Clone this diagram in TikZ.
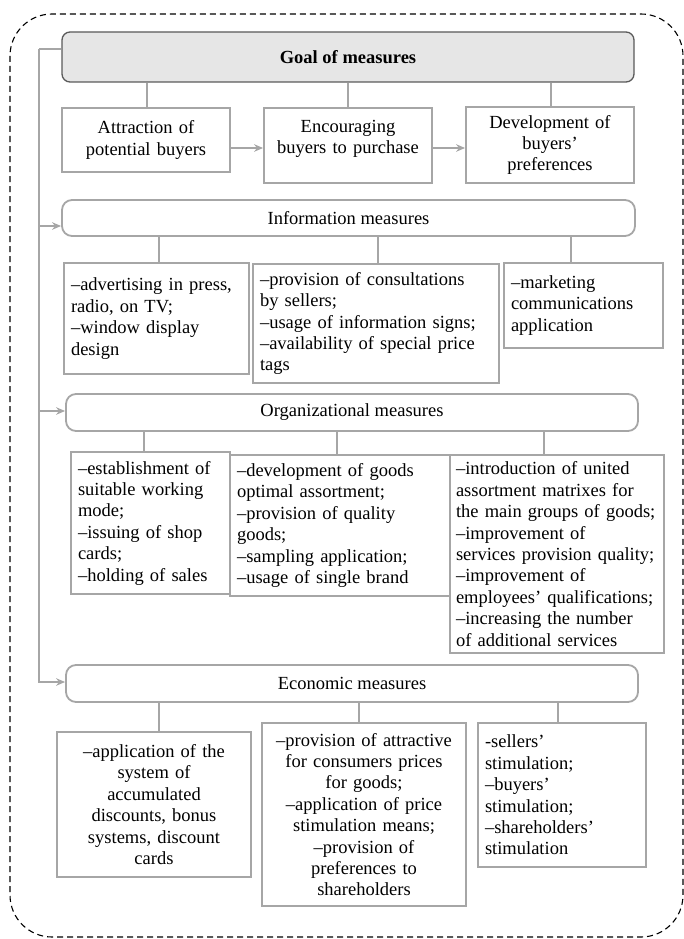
\documentclass[tikz,border=0pt]{standalone}
\usepackage{fontspec}
\setmainfont{Liberation Serif}
\usetikzlibrary{arrows.meta}
\definecolor{boxgray}{RGB}{166,166,166}
\definecolor{goalgray}{RGB}{90,90,90}
\definecolor{goalfill}{RGB}{230,230,230}
\begin{document}
\begin{tikzpicture}[x=1pt,y=-1pt,
  every node/.style={font=\fontsize{18.5}{21.4}\selectfont, inner xsep=7pt, inner ysep=0pt},
  box/.style={draw=boxgray, line width=1.8pt, rectangle},
  head/.style={draw=boxgray, line width=1.8pt, rounded corners=10pt, rectangle},
  link/.style={draw=boxgray, line width=1.8pt},
  arr/.style={link, -{Stealth[length=9pt,width=7.5pt]}},
  lt/.style={align=left},
  ct/.style={align=center}]
\useasboundingbox (0,0) rectangle (684,939);

% outer dashed frame
\draw[line width=1.1pt, dash pattern=on 6pt off 4pt, rounded corners=42pt]
  (10,14) rectangle (683,937);

% goal and its three sub-goals
\node[draw=goalgray, fill=goalfill, line width=1.3pt, rounded corners=8pt,
  minimum width=572, minimum height=50, font=\fontsize{18.5}{21.4}\selectfont\bfseries]
  (goal) at (348,57) {Goal of measures};
\node[box, ct, minimum width=168, minimum height=64, text width=154] (attr) at (146,140)
  {Attraction of\\potential buyers};
\node[box, ct, minimum width=168, minimum height=75, text width=154] (enc) at (348,145.5)
  {Encouraging\\buyers to purchase\\[-4pt]\mbox{}};
\node[box, ct, minimum width=168, minimum height=76, text width=154] (dev) at (550,145)
  {Development of\\buyers’\\preferences};

% measure groups
\node[head, minimum width=573, minimum height=36] (info) at (348.5,218) {Information measures};
\node[head, minimum width=572, minimum height=37] (org) at (352,412.5) {Organizational measures};
\node[head, minimum width=572, minimum height=37] (eco) at (352,683.5) {Economic measures};

% information measures
\node[box, lt, minimum width=185, minimum height=111, text width=171] (i1) at (156.5,318.5)
  {–advertising in press,\\radio, on TV;\\–window display\\design};
\node[box, lt, minimum width=246, minimum height=119, text width=232] (i2) at (376,323.5)
  {–provision of consultations\\by sellers;\\–usage of information signs;\\–availability of special price\\tags};
\node[box, lt, minimum width=159, minimum height=85, text width=145] (i3) at (583.5,305.5)
  {–marketing\\communications\\application};

% organizational measures
\node[box, lt, minimum width=159, minimum height=142, text width=145] (o1) at (150.5,523)
  {–establishment of\\suitable working\\mode;\\–issuing of shop\\cards;\\–holding of sales};
\node[box, lt, minimum width=220, minimum height=141, text width=206] (o2) at (340,525.5)
  {–development of goods\\optimal assortment;\\–provision of quality\\goods;\\–sampling application;\\–usage of single brand};
\node[box, lt, minimum width=214, minimum height=198, text width=202, inner xsep=6pt] (o3) at (557,554)
  {–introduction of united\\assortment matrixes for\\the main groups of goods;\\–improvement of\\services provision quality;\\–improvement of\\employees’ qualifications;\\–increasing the number\\of additional services};

% economic measures
\node[box, ct, minimum width=194, minimum height=145, text width=180] (e1) at (154,804.5)
  {–application of the\\system of\\accumulated\\discounts, bonus\\systems, discount\\cards};
\node[box, ct, minimum width=204, minimum height=183, text width=190] (e2) at (364,814.5)
  {–provision of attractive\\for consumers prices\\for goods;\\–application of price\\stimulation means;\\–provision of\\preferences to\\shareholders};
\node[box, lt, minimum width=168, minimum height=144, text width=154] (e3) at (562,795)
  {-sellers’\\stimulation;\\–buyers’\\stimulation;\\–shareholders’\\stimulation};

% goal to sub-goals
\draw[link] ([xshift=1]attr.north) -- ([xshift=1]attr.north |- goal.south);
\draw[link] (enc.north) -- (enc.north |- goal.south);
\draw[link] ([xshift=1]dev.north) -- ([xshift=1]dev.north |- goal.south);
\draw[arr] ([yshift=-8]attr.east) -- ([yshift=-8]attr.east -| enc.west);
\draw[arr] ([yshift=-2.5]enc.east) -- ([yshift=-2.5]enc.east -| dev.west);

% trunk from the goal to the three groups
\draw[link] ([yshift=8]goal.west) -- ++(-22,0) coordinate (trunk);
\draw[arr] (trunk) |- ([yshift=1.5]eco.west);
\draw[arr] ([yshift=-8]info.west -| trunk) -- ([yshift=-8]info.west);
\draw[arr] ([yshift=1.5]org.west -| trunk) -- ([yshift=1.5]org.west);

% groups to their measures
\draw[link] ([xshift=2.5]i1.north) -- ([xshift=2.5]i1.north |- info.south);
\draw[link] ([xshift=2]i2.north) -- ([xshift=2]i2.north |- info.south);
\draw[link] ([xshift=-12.5]i3.north) -- ([xshift=-12.5]i3.north |- info.south);
\draw[link] ([xshift=-6.5]o1.north) -- ([xshift=-6.5]o1.north |- org.south);
\draw[link] ([xshift=-3]o2.north) -- ([xshift=-3]o2.north |- org.south);
\draw[link] ([xshift=-13]o3.north) -- ([xshift=-13]o3.north |- org.south);
\draw[link] ([xshift=5]e1.north) -- ([xshift=5]e1.north |- eco.south);
\draw[link] ([xshift=-5]e2.north) -- ([xshift=-5]e2.north |- eco.south);
\draw[link] ([xshift=-4]e3.north) -- ([xshift=-4]e3.north |- eco.south);
\end{tikzpicture}
\end{document}
